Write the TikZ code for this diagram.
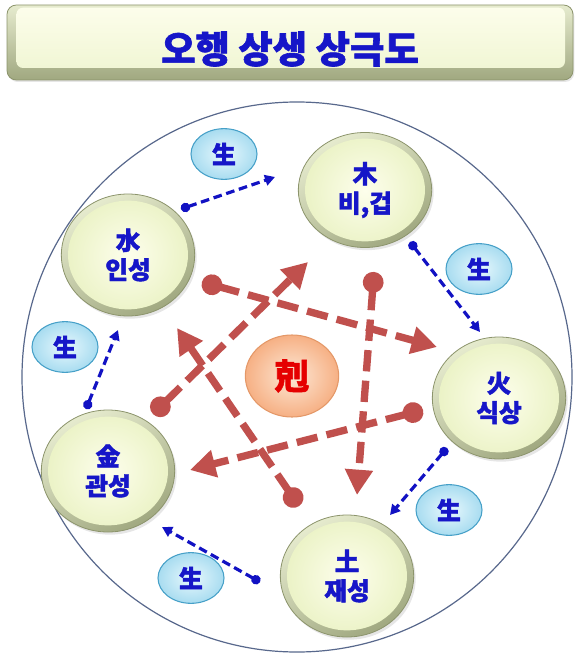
\documentclass[tikz,border=0pt]{standalone}
\usepackage{fontspec}
\newfontfamily\kr{Noto Sans CJK KR}[BoldFeatures={FakeBold=1.6}]
\usetikzlibrary{shapes.geometric, arrows.meta, positioning, shadows}

\definecolor{txtblue}{RGB}{22,22,200}
\definecolor{arrblue}{RGB}{18,18,195}
\definecolor{kered}{RGB}{192,80,77}
\definecolor{bevline}{RGB}{140,148,108}
\definecolor{bevhi}{RGB}{230,235,206}
\definecolor{bevlo}{RGB}{160,168,128}
\definecolor{facein}{RGB}{253,254,236}
\definecolor{faceout}{RGB}{234,242,196}
\definecolor{sgline}{RGB}{70,160,200}
\definecolor{sgin}{RGB}{232,248,253}
\definecolor{sgout}{RGB}{168,220,240}
\definecolor{keline}{RGB}{228,152,104}
\definecolor{kein}{RGB}{253,232,214}
\definecolor{keout}{RGB}{246,176,132}
\definecolor{ringc}{RGB}{88,104,140}

\begin{document}
\begin{tikzpicture}[x=0.75pt,y=-0.75pt,on grid,
	elem/.style={ellipse,minimum width=100pt,minimum height=91.5pt,draw=bevline,line width=0.6pt,
		top color=bevhi,bottom color=bevlo,shading angle=30,
		drop shadow={opacity=0.2,shadow xshift=1.5pt,shadow yshift=-2pt},
		path picture={\shade[inner color=facein,outer color=faceout] (path picture bounding box.center) ellipse [x radius=45pt,y radius=#1];},
		font=\kr\bfseries\fontsize{18.5}{22}\selectfont,text=txtblue,align=center},
	elem/.default=40.75pt,
	saeng/.style={ellipse,minimum width=49.5pt,minimum height=38pt,draw=sgline,line width=0.8pt,
		inner color=sgin,outer color=sgout,font=\kr\bfseries\fontsize{18}{18}\selectfont,text=txtblue},
	geuk/.style={ellipse,minimum width=70pt,minimum height=61.5pt,draw=keline,line width=0.8pt,
		inner color=kein,outer color=keout,font=\kr\bfseries\fontsize{26}{26}\selectfont,text=red!90!black},
	titlebox/.style={rectangle,rounded corners=7pt,minimum width=424.5pt,minimum height=56.25pt,
		draw=bevline,line width=0.6pt,top color=bevhi,bottom color=bevlo,
		drop shadow={opacity=0.2,shadow xshift=1pt,shadow yshift=-1.5pt},
		path picture={\shade[top color=facein,bottom color=faceout!80,rounded corners=5pt]
			([shift={(7pt,-2pt)}]path picture bounding box.north west) rectangle
			([shift={(-6pt,9pt)}]path picture bounding box.south east);}},
	saengarrow/.style={draw=arrblue,line width=2.4pt,dash pattern=on 6.5pt off 3.5pt,
		arrows={Circle[length=7pt]-Triangle[length=7.5pt,width=8pt]}},
	kearrow/.style={draw=kered,line width=5.5pt,dash pattern=on 16pt off 7pt,
		arrows={Circle[length=15.5pt]-Triangle[length=19pt,width=20pt]}}]

	\useasboundingbox (0,0) rectangle (580,656);

	% title
	\node[titlebox] (title) at (290,42.5) {};
	\node[font=\kr\bfseries\fontsize{28}{28}\selectfont,text=txtblue] (titletext) at (290,49) {오행 상생 상극도};

	\node[circle,draw=ringc,line width=0.9pt,minimum size=412.5pt] (ring) at (297,377) {};

	% five elements
	\node[geuk] (ke) at (292,376) {剋};
	\node[elem=38.5pt,minimum height=86.25pt] (wood) [above right=139.5pt and 54.75pt of ke] {木\\비,겁};
	\node[elem] (water) [above left=90.75pt and 123pt of ke]   {水\\인성};
	\node[elem] (fire)  [below right=16.5pt and 155.25pt of ke] {火\\식상};
	\node[elem] (metal) [below left=71.25pt and 138pt of ke]   {金\\관성};
	\node[elem] (earth) [below right=150pt and 41.25pt of ke]  {土\\재성};

	% saeng labels
	\node[saeng] (s1) [above left=166.5pt and 51pt of ke]      {生};
	\node[saeng] (s2) [above right=80.25pt and 140.25pt of ke] {生};
	\node[saeng] (s3) [below right=100.5pt and 117.75pt of ke] {生};
	\node[saeng] (s4) [below left=151.5pt and 75.75pt of ke]   {生};
	\node[saeng] (s5) [above left=21.75pt and 170.25pt of ke]  {生};

	% saeng arrows
	\coordinate (g1s) at (181,209); \coordinate (g1e) at (275,177);
	\coordinate (g2s) at (410,242); \coordinate (g2e) at (480,332);
	\coordinate (g3s) at (447,448); \coordinate (g3e) at (390,515);
	\coordinate (g4s) at (260,582); \coordinate (g4e) at (162,527);
	\coordinate (g5s) at (86,409);  \coordinate (g5e) at (118,330);
	\draw[saengarrow] (g1s) -- (g1e);
	\draw[saengarrow] (g2s) -- (g2e);
	\draw[saengarrow] (g3s) -- (g3e);
	\draw[saengarrow] (g4s) -- (g4e);
	\draw[saengarrow] (g5s) -- (g5e);

	% geuk arrows
	\coordinate (k1s) at (202,282); \coordinate (k1e) at (437,347);
	\coordinate (k2s) at (374,272); \coordinate (k2e) at (357,495);
	\coordinate (k3s) at (423,410); \coordinate (k3e) at (190,470);
	\coordinate (k4s) at (299,506); \coordinate (k4e) at (177,328);
	\coordinate (k5s) at (153,414); \coordinate (k5e) at (308,262);
	\draw[kearrow] (k1s) -- (k1e);
	\draw[kearrow] (k2s) -- (k2e);
	\draw[kearrow] (k3s) -- (k3e);
	\draw[kearrow] (k4s) -- (k4e);
	\draw[kearrow] (k5s) -- (k5e);
\end{tikzpicture}
\end{document}
